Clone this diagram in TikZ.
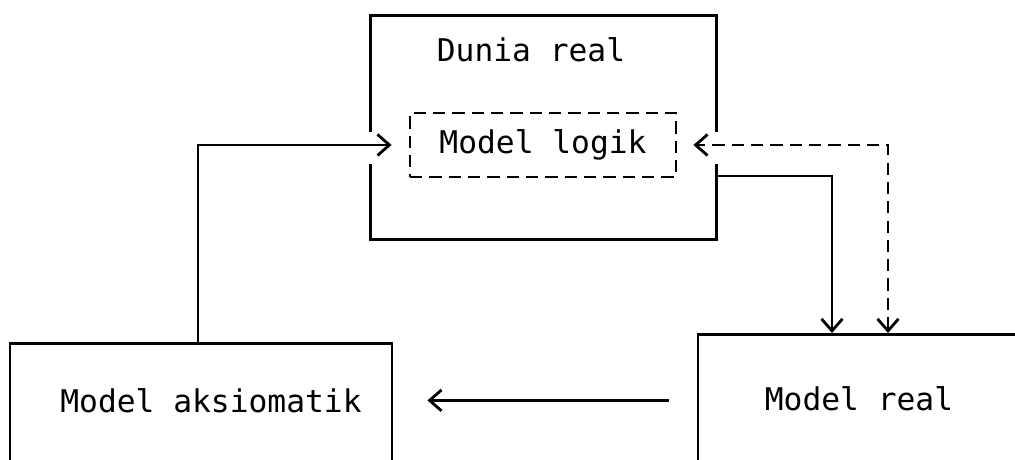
\documentclass[tikz,border=0pt]{standalone}
\usepackage{fontspec}
\setmonofont{DejaVu Sans Mono}
\usetikzlibrary{arrows.meta, calc}

\begin{document}
\begin{tikzpicture}[
    every node/.style={font=\fontsize{17.8}{21}\selectfont\ttfamily},
    box/.style={draw, line width=1.6pt, inner sep=0pt},
    inner/.style={draw, line width=1.6pt, dash pattern=on 7pt off 4pt, inner sep=0pt},
    link/.style={line width=1.6pt, -{Straight Barb[length=2.4mm, width=4.2mm]}},
    back/.style={line width=1.6pt, dash pattern=on 7pt off 4pt,
        {Straight Barb[length=2.4mm, width=4.2mm]}-{Straight Barb[length=2.4mm, width=4.2mm]}}
]

% page
\clip (0,0) rectangle (20.3,9.18);

% gap in the frame of the outer box
\def\gapup{0.26}
\def\gapdown{0.38}

% =========================
% DUNIA REAL
% =========================
\node[minimum width=6.9cm, minimum height=4.46cm] (dunia) at (10.87,6.63) {};
\node (title) at (10.62,8.18) {Dunia real};
\node[inner, minimum width=5.32cm, minimum height=1.28cm] (logik) at (10.86,6.28) {Model logik};

% frame, open where the arrows pass
\draw[line width=1.6pt]
    ($(dunia.west |- logik)+(0,\gapup)$) -- (dunia.north west)
    -- (dunia.north east) -- ($(dunia.east |- logik)+(0,\gapup)$);
\draw[line width=1.6pt]
    ($(dunia.west |- logik)+(0,-\gapdown)$) -- (dunia.south west)
    -- (dunia.south east) -- ($(dunia.east |- logik)+(0,-\gapdown)$);

% =========================
% LOWER BOXES
% =========================
\node[box, anchor=north, minimum width=7.64cm, text height=1.38cm, text depth=1.5cm]
    (aks) at (4.02,2.34) {\hspace*{0.4cm}Model aksiomatik};
\node[box, anchor=north, minimum width=6.44cm, text height=1.52cm, text depth=1.5cm]
    (real) at (17.18,2.52) {Model real};

% =========================
% ARROWS
% =========================
\draw[link, shorten >=0.34cm] ([xshift=-0.06cm]aks.north) |- (logik.west);
\draw[link] ([yshift=-0.97cm]dunia.east) -| ([xshift=-0.54cm]real.north);
\draw[back, shorten >=0.32cm] ([xshift=0.58cm]real.north) |- (logik.east);
\draw[link, shorten <=0.56cm, shorten >=0.68cm]
    ([yshift=0.2cm]real.base west) -- ([yshift=0.2cm]real.base west -| aks.east);
\end{tikzpicture}
\end{document}
